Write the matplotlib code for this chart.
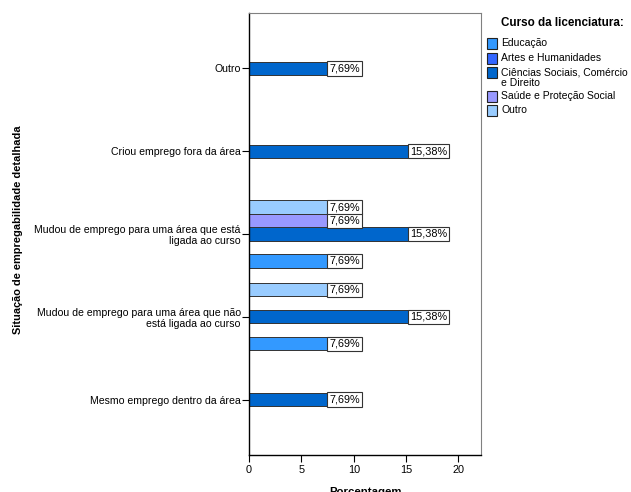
import matplotlib
matplotlib.use("Agg")
import matplotlib.pyplot as plt
from matplotlib.patches import Rectangle
import numpy as np

plt.rcParams['font.family'] = ['Liberation Sans', 'DejaVu Sans']

categories = ["Outro", "Criou emprego fora da área",
              "Mudou de emprego para uma área que está\nligada ao curso",
              "Mudou de emprego para uma área que não\nestá ligada ao curso",
              "Mesmo emprego dentro da área"]
series = ["Educação", "Artes e Humanidades", "Ciências Sociais, Comércio\ne Direito",
          "Saúde e Proteção Social", "Outro"]
colors = ["#3399ff", "#3366ff", "#0066cc", "#9999ff", "#99ccff"]
# values per series, per category (None = no bar)
values = {
    "Educação":                [None, None, 7.69, 7.69, None],
    "Artes e Humanidades":     [None, None, None, None, None],
    "Ciências Sociais, Comércio\ne Direito": [7.69, 15.38, 15.38, 15.38, 7.69],
    "Saúde e Proteção Social": [None, None, 7.69, None, None],
    "Outro":                   [None, None, 7.69, 7.69, None],
}

W, H = 631, 492
fig = plt.figure(figsize=(W/100, H/100), dpi=100)
ax = fig.add_axes([249/W, 1-455/H, (481-249)/W, (455-13)/H])

slot = 0.163
y = np.arange(len(categories))
for i, s in enumerate(series):
    off = (2 - i) * slot
    for j, v in enumerate(values[s]):
        if v is None:
            continue
        ax.barh(y[j] + off, v, height=slot*0.97, color=colors[i],
                edgecolor="#333333", linewidth=0.7, zorder=2)
        ax.text(v, y[j] + off, f"{v:.2f}%".replace(".", ","), fontsize=7.8,
                va="center", ha="left", zorder=3,
                bbox=dict(boxstyle="square,pad=0.2", fc="white", ec="#333333", lw=0.8))

ax.set_xlim(0, 22.15)
ax.set_ylim(4.67, -0.67)
ax.set_yticks(y)
ax.set_yticklabels(categories, fontsize=7.6, ha="right", linespacing=1.15)
ax.set_xticks([0, 5, 10, 15, 20])
ax.tick_params(axis="x", labelsize=7.8, length=5, width=0.8, direction="out", pad=2)
ax.tick_params(axis="y", length=5, width=0.8, direction="out", pad=1)
for sp in ["top", "right"]:
    ax.spines[sp].set_color("#808080")
    ax.spines[sp].set_linewidth(0.8)
for sp in ["left", "bottom"]:
    ax.spines[sp].set_color("black")
    ax.spines[sp].set_linewidth(1.0)

ax.set_xlabel("Porcentagem", fontsize=8.2, fontweight="bold", labelpad=9)
fig.text(18/W, 1-230/H, "Situação de empregabilidade detalhada", rotation=90,
         fontsize=7.9, fontweight="bold", ha="center", va="center")

# legend
fig.text(501/W, 1-23/H, "Curso da licenciatura:", fontsize=8.4, fontweight="bold",
         ha="left", va="center")
leg_y = [43, 58, 72, 96, 110]
for i, s in enumerate(series):
    yc = leg_y[i]
    fig.patches.append(Rectangle((487/W, 1-(yc+5.5)/H), 10/W, 11/H, transform=fig.transFigure,
                                 fc=colors[i], ec="#222222", lw=0.8))
    ty = yc if "\n" not in s else yc + 5.5
    fig.text(501/W, 1-ty/H, s, fontsize=7.5, ha="left", va="center", linespacing=1.1)

fig.savefig("out.png", dpi=100)
